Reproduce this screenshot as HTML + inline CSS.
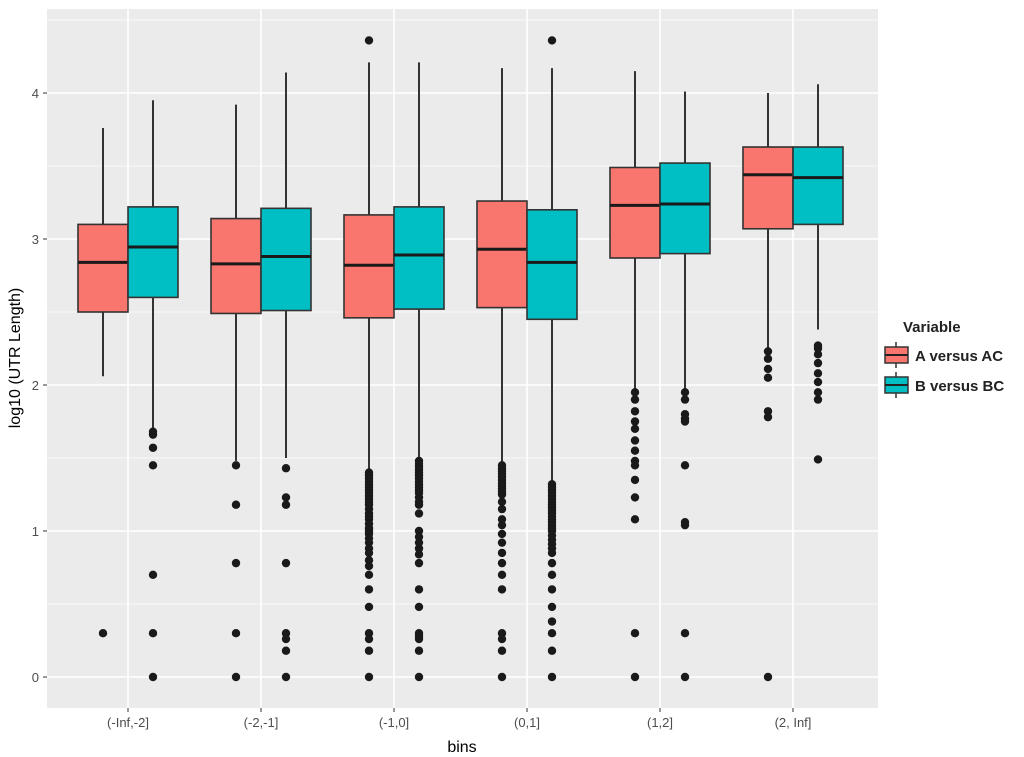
<!DOCTYPE html>
<html><head><meta charset="utf-8"><style>body{margin:0;background:#fff}svg{display:block}text{font-family:"Liberation Sans",sans-serif}</style></head>
<body>
<svg id="chart" width="1024" height="757">
<rect x="47" y="9" width="831" height="699" fill="#ebebeb"/>
<g id="grid"></g><g id="boxes"></g><g id="axes"></g>
<text x="462" y="752" font-size="16" fill="#000" text-anchor="middle">bins</text>
<text transform="translate(20,358) rotate(-90)" font-size="16" fill="#000" text-anchor="middle">log10 (UTR Length)</text>
<g>
<text x="903" y="332" font-size="15" font-weight="bold" fill="#222">Variable</text>
<g><line x1="896" x2="896" y1="342" y2="368" stroke="#333" stroke-width="1.5"/><rect x="885" y="347" width="23" height="16" fill="#f8766d" stroke="#333" stroke-width="1.5"/><line x1="885" x2="908" y1="355" y2="355" stroke="#222" stroke-width="2"/><text x="915" y="361" font-size="15" font-weight="bold" fill="#222">A versus AC</text></g>
<g><line x1="896" x2="896" y1="372" y2="398" stroke="#333" stroke-width="1.5"/><rect x="885" y="377" width="23" height="16" fill="#00bfc4" stroke="#333" stroke-width="1.5"/><line x1="885" x2="908" y1="385" y2="385" stroke="#222" stroke-width="2"/><text x="915" y="391" font-size="15" font-weight="bold" fill="#222">B versus BC</text></g>
</g>
</svg>
<script>
const categories=["(-Inf,-2]","(-2,-1]","(-1,0]","(0,1]","(1,2]","(2, Inf]"];
const yTicks=[0,1,2,3,4];
const seriesA={q1:[2.50,2.49,2.46,2.53,2.87,3.07],med:[2.84,2.83,2.82,2.93,3.23,3.44],q3:[3.10,3.14,3.165,3.26,3.49,3.63],lo:[2.06,1.48,1.42,1.46,1.97,2.25],hi:[3.76,3.92,4.21,4.17,4.15,4.00]};
const seriesB={q1:[2.60,2.51,2.52,2.45,2.90,3.10],med:[2.945,2.88,2.89,2.84,3.24,3.42],q3:[3.22,3.21,3.22,3.20,3.52,3.63],lo:[1.70,1.50,1.50,1.34,1.97,2.38],hi:[3.95,4.14,4.21,4.17,4.01,4.06]};
const outliersA=[[0.30],[1.45,1.18,0.78,0.30,0],[4.36,1.40,1.38,1.36,1.34,1.32,1.30,1.28,1.26,1.24,1.22,1.20,1.18,1.15,1.12,1.10,1.08,1.05,1.02,1.0,0.98,0.95,0.92,0.88,0.85,0.80,0.76,0.70,0.60,0.48,0.30,0.26,0.18,0],[1.45,1.43,1.41,1.39,1.37,1.35,1.33,1.31,1.29,1.27,1.25,1.2,1.15,1.08,1.04,0.98,0.92,0.85,0.78,0.70,0.60,0.30,0.26,0.18,0],[1.95,1.90,1.82,1.75,1.70,1.62,1.55,1.48,1.45,1.35,1.23,1.08,0.30,0],[2.23,2.18,2.11,2.05,1.82,1.78,0]];
const outliersB=[[1.68,1.66,1.57,1.45,0.70,0.30,0],[1.43,1.23,1.18,0.78,0.30,0.26,0.18,0],[1.48,1.46,1.44,1.42,1.40,1.38,1.36,1.34,1.32,1.30,1.28,1.26,1.23,1.20,1.18,1.12,1.0,0.96,0.92,0.88,0.84,0.78,0.60,0.48,0.30,0.28,0.26,0.18,0],[4.36,1.32,1.30,1.28,1.26,1.24,1.22,1.20,1.18,1.16,1.14,1.12,1.10,1.08,1.06,1.04,1.02,1.0,0.97,0.94,0.91,0.88,0.85,0.78,0.70,0.60,0.48,0.38,0.30,0.18,0],[1.95,1.90,1.80,1.77,1.75,1.45,1.06,1.04,0.30,0],[2.27,2.25,2.21,2.15,2.08,2.02,1.95,1.90,1.49]];
const NS="http://www.w3.org/2000/svg";
const X0=47,X1=878,Y0=9,Y1=708;
const yScale=v=>677-v*146;
const xScale=i=>128+i*133;
function mk(parent,tag,attrs){const e=document.createElementNS(NS,tag);for(const k in attrs)e.setAttribute(k,attrs[k]);document.getElementById(parent).appendChild(e);return e;}
// grid
for(let i=0;i<yTicks.length-1;i++){const l=mk('grid','line',{x1:X0,x2:X1,y1:yScale(yTicks[i]+0.5),y2:yScale(yTicks[i]+0.5),stroke:'#fff','stroke-width':0.8});

}
{const l=mk('grid','line',{x1:X0,x2:X1,y1:yScale(4.5),y2:yScale(4.5),stroke:'#fff','stroke-width':0.8});

}
yTicks.forEach(v=>{const l=mk('grid','line',{x1:X0,x2:X1,y1:yScale(v),y2:yScale(v),stroke:'#fff','stroke-width':1.6});


const t=mk('axes','line',{x1:43,x2:47,y1:yScale(v),y2:yScale(v),stroke:'#333','stroke-width':1});


const tx=mk('axes','text',{x:39,y:yScale(v)+5,'font-size':13,fill:'#4d4d4d','text-anchor':'end'});tx.textContent=v;

});
categories.forEach((c,i)=>{const x=xScale(i);
const l=mk('grid','line',{x1:x,x2:x,y1:Y0,y2:Y1,stroke:'#fff','stroke-width':1.6});


const t=mk('axes','line',{x1:x,x2:x,y1:708,y2:712,stroke:'#333','stroke-width':1});


const tx=mk('axes','text',{x:x,y:727,'font-size':13,fill:'#4d4d4d','text-anchor':'middle'});tx.textContent=c;

});
function drawBox(s,outs,i,off,fill,name){const cx=xScale(i)+off,w=50;
const g=mk('boxes','g',{});


const id='b'+name+i;g.id=id;
mk(id,'line',{x1:cx,x2:cx,y1:yScale(s.hi[i]),y2:yScale(s.lo[i]),stroke:'#333','stroke-width':2});
mk(id,'rect',{x:cx-w/2,y:yScale(s.q3[i]),width:w,height:yScale(s.q1[i])-yScale(s.q3[i]),fill:fill,stroke:'#333','stroke-width':1.6});
mk(id,'line',{x1:cx-w/2,x2:cx+w/2,y1:yScale(s.med[i]),y2:yScale(s.med[i]),stroke:'#1a1a1a','stroke-width':3});
outs[i].forEach(v=>{const c=mk(id,'circle',{cx:cx,cy:yScale(v),r:4.2,fill:'#1a1a1a'});

});}
categories.forEach((c,i)=>{drawBox(seriesA,outliersA,i,-25,'#f8766d','box-a-versus-ac');drawBox(seriesB,outliersB,i,25,'#00bfc4','box-b-versus-bc');});
</script>
</body></html>
